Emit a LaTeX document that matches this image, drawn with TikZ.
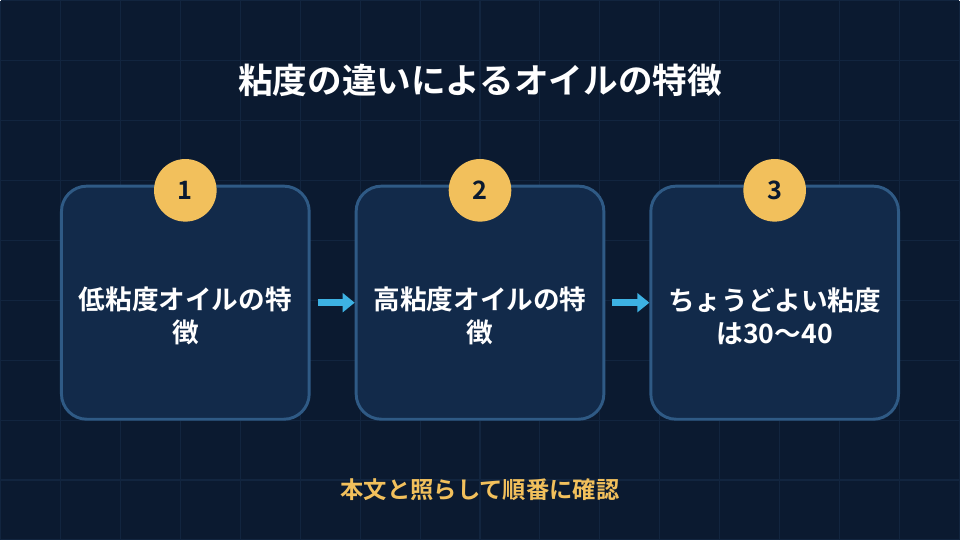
\documentclass[tikz,border=0pt]{standalone}
\usepackage{fontspec}
\setmainfont{Noto Sans CJK JP}[BoldFont={* Bold}]
\usetikzlibrary{positioning,arrows.meta}
\definecolor{bgdark}{HTML}{0B1A30}
\definecolor{gridline}{HTML}{12253F}
\definecolor{boxfill}{HTML}{122A4A}
\definecolor{boxedge}{HTML}{2F5A85}
\definecolor{badge}{HTML}{F2C05C}
\definecolor{flow}{HTML}{3DB2E3}
\tikzset{
  stage/.style={draw=boxedge, line width=2.2pt, fill=boxfill, rounded corners=19pt,
    minimum width=186pt, minimum height=175pt},
  stagetext/.style={text=white, align=center, yshift=-10pt,
    font=\bfseries\fontsize{20}{25}\selectfont},
  num/.style={circle, fill=badge, minimum size=47pt, inner sep=0pt, text=bgdark,
    font=\bfseries\fontsize{19}{22}\selectfont},
  next/.style={-{Triangle[length=9pt,width=14pt]}, draw=flow, line width=5pt}
}
\begin{document}
\begin{tikzpicture}[x=0.75pt,y=-0.75pt]
\fill[bgdark] (0,0) rectangle (960,540);
\draw[gridline, line width=0.8pt] (0,0) grid[step=45pt] (960,540);
\useasboundingbox (0,0) rectangle (960,540);

\node[text=white, font=\bfseries\fontsize{26}{30}\selectfont] (title) at (480,80) {粘度の違いによるオイルの特徴};

\node[stage, label={[stagetext]center:低粘度オイルの特\\徴}] (s1) at (185,302.5) {};
\node[stage, label={[stagetext]center:高粘度オイルの特\\徴}] (s2) at (480,302.5) {};
\node[stage, label={[stagetext]center:ちょうどよい粘度\\は30〜40}] (s3) at (775,302.5) {};

\node[num] (n1) at (185,190) {1};
\node[num] (n2) at (480,190) {2};
\node[num] (n3) at (775,190) {3};

\draw[next] (s1.east) ++(7,0) coordinate (a1) -- (s2.west);
\draw[next] (s2.east) ++(7,0) coordinate (a2) -- (s3.west);

\node[text=badge, font=\bfseries\fontsize{17.5}{20}\selectfont] (note) at (480,490) {本文と照らして順番に確認};
\end{tikzpicture}
\end{document}
